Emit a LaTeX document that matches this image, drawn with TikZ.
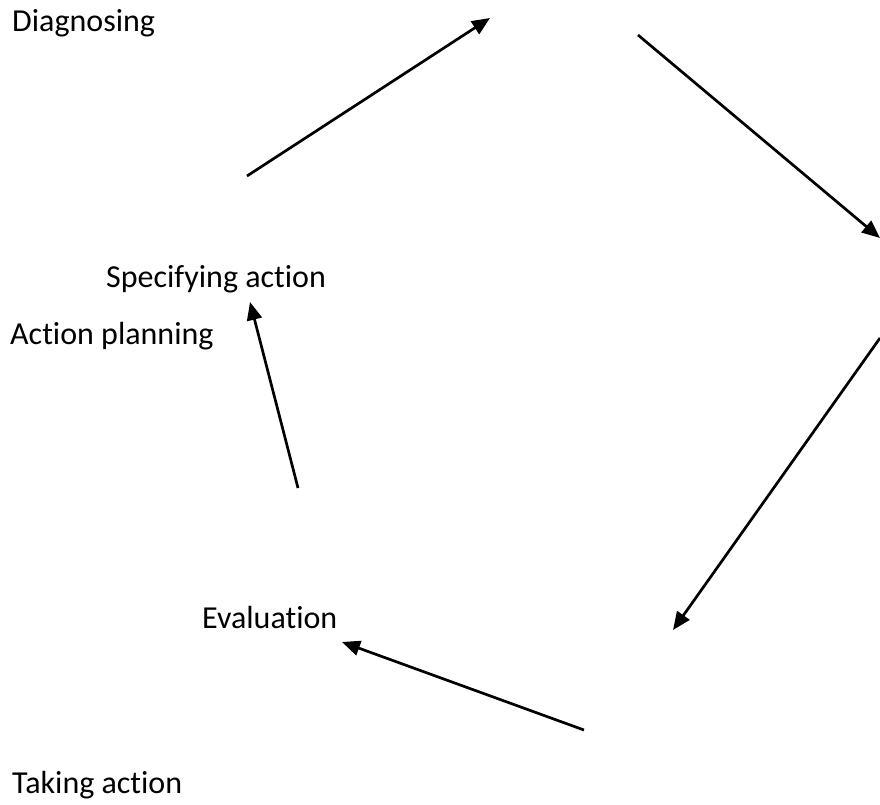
\documentclass[tikz,border=0pt]{standalone}
\usepackage{fontspec}
\setmainfont[Ligatures={NoCommon}]{Carlito}
\usetikzlibrary{arrows.meta}
\begin{document}
\begin{tikzpicture}[x=1pt,y=-1pt,
  label text/.style={anchor=base west, inner sep=0pt, font=\fontsize{32}{38}\selectfont},
  flow/.style={line width=2.7pt, -{Triangle[length=18pt,width=15pt]}}]
\useasboundingbox (0,0) rectangle (880,805);

% stage labels
\node[label text] (diag) at (12,32) {Diagnosing};
\node[label text] (spec) at (106,287) {Specifying action};
\node[label text] (plan) at (10,344) {Action planning};
\node[label text] (eval) at (202,628) {Evaluation};
\node[label text] (take) at (12,793) {Taking action};

% arrow end points around the cycle
\coordinate (a1s) at (247,176);  \coordinate (a1e) at (490,18);
\coordinate (a2s) at (638,35);   \coordinate (a2e) at (880,238);
\coordinate (a3s) at (880,338);  \coordinate (a3e) at (673,630);
\coordinate (a4s) at (584,730);  \coordinate (a4e) at (342,642);
\coordinate (a5s) at (298,488);  \coordinate (a5e) at (250,302);

\draw[flow] (a1s) -- (a1e);
\draw[flow] (a2s) -- (a2e);
\draw[flow] (a3s) -- (a3e);
\draw[flow] (a4s) -- (a4e);
\draw[flow] (a5s) -- (a5e);
\end{tikzpicture}
\end{document}
